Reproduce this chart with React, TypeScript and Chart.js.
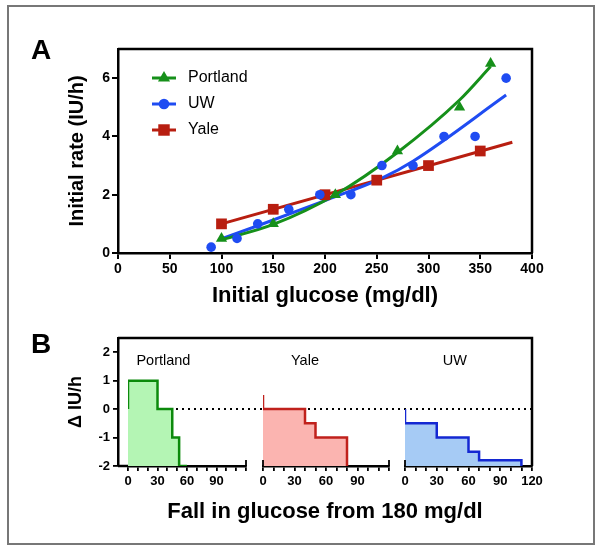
import React, { useEffect, useRef } from 'react';
import { Chart, registerables } from 'chart.js';

Chart.register(...registerables);

const FONT = 'Arial, "Liberation Sans", Helvetica, sans-serif';

// ---------------- Panel A data ----------------
const seriesNames = ['Portland', 'UW', 'Yale'];
const seriesColors = ['#16901a', '#1f4cf2', '#b81e10'];
const seriesMarkers = ['triangle', 'circle', 'rect'];
const seriesMarkerRadius = [6.5, 4.8, 7.6];

const portlandGlucose = [100, 150, 210, 270, 330, 360];
const portlandRate = [0.5, 1.0, 2.0, 3.5, 5.0, 6.5];
const uwGlucose = [90, 115, 135, 165, 195, 225, 255, 285, 315, 345, 375];
const uwRate = [0.2, 0.5, 1.0, 1.5, 2.0, 2.0, 3.0, 3.0, 4.0, 4.0, 6.0];
const yaleGlucose = [100, 150, 200, 250, 300, 350];
const yaleRate = [1.0, 1.5, 2.0, 2.5, 3.0, 3.5];

// fitted curves
const portlandFitX = [100, 150, 210, 270, 330, 360];
const portlandFitY = [0.45, 0.98, 2.0, 3.45, 5.25, 6.4];
const uwFitX = [97, 137, 200, 255, 285, 375];
const uwFitY = [0.45, 0.96, 1.8, 2.57, 3.15, 5.42];
const yaleFitX = [100, 381];
const yaleFitY = [1.0, 3.8];

// ---------------- Panel B data ----------------
const subPanelNames = ['Portland', 'Yale', 'UW'];
const subLineColors = ['#0c8a0c', '#c0211c', '#1428d2'];
const subFillColors = ['#b4f5b4', '#fbb4b0', '#a6cbf5'];
const subLabelFall = [36, 40, 47];

const portlandFall = [0, 0, 30, 45, 52, 60];
const portlandDelta = [0, 1, 0, -1, -2, -2];
const yaleFall = [0, 0, 40, 50, 80];
const yaleDelta = [0.5, 0, -0.5, -1, -2];
const uwFall = [0, 0, 30, 60, 70, 110];
const uwDelta = [0, -0.5, -1, -1.5, -1.8, -2];

const zip = (xs: number[], ys: number[]) => xs.map((x, i) => ({ x, y: ys[i] }));

function drawMarker(ctx: CanvasRenderingContext2D, style: string, x: number, y: number, r: number) {
  ctx.beginPath();
  if (style === 'triangle') {
    for (let k = 0; k < 3; k++) {
      const ang = -Math.PI / 2 + (k * 2 * Math.PI) / 3;
      const px = x + Math.cos(ang) * r;
      const py = y + Math.sin(ang) * r;
      if (k === 0) ctx.moveTo(px, py);
      else ctx.lineTo(px, py);
    }
    ctx.closePath();
  } else if (style === 'rect') {
    const s = r * Math.SQRT1_2;
    ctx.rect(x - s, y - s, 2 * s, 2 * s);
  } else {
    ctx.arc(x, y, r, 0, Math.PI * 2);
  }
  ctx.fill();
}

const panelAPlugin = {
  id: 'panelA',
  afterDraw(chart: any) {
    const { ctx, chartArea: a } = chart;
    ctx.save();
    ctx.strokeStyle = '#000';
    ctx.lineWidth = 2.5;
    ctx.beginPath();
    ctx.moveTo(a.left, a.top);
    ctx.lineTo(a.right, a.top);
    ctx.lineTo(a.right, a.bottom);
    ctx.stroke();

    // legend
    seriesNames.forEach((name, i) => {
      const y = a.top + 29 + 26 * i;
      const x0 = a.left + 34;
      ctx.strokeStyle = seriesColors[i];
      ctx.fillStyle = seriesColors[i];
      ctx.lineWidth = 3;
      ctx.beginPath();
      ctx.moveTo(x0, y);
      ctx.lineTo(x0 + 24, y);
      ctx.stroke();
      drawMarker(ctx, seriesMarkers[i], x0 + 12, y, seriesMarkerRadius[i] + 0.5);
      ctx.fillStyle = '#000';
      ctx.font = `16px ${FONT}`;
      ctx.textAlign = 'left';
      ctx.textBaseline = 'middle';
      ctx.fillText(name, x0 + 36, y);
    });

    ctx.fillStyle = '#000';
    ctx.font = `bold 28px ${FONT}`;
    ctx.textAlign = 'center';
    ctx.textBaseline = 'middle';
    ctx.fillText('A', 41, 51);
    ctx.restore();
  },
};

const panelBPlugin = {
  id: 'panelB',
  beforeDatasetsDraw(chart: any) {
    const { ctx, chartArea: a, scales } = chart;
    const y0 = scales.y.getPixelForValue(0);
    const xs = scales.xP.getPixelForValue(0);
    ctx.save();
    ctx.setLineDash([2, 4]);
    ctx.lineWidth = 2;
    ctx.strokeStyle = '#000';
    ctx.beginPath();
    ctx.moveTo(xs, y0);
    ctx.lineTo(a.right, y0);
    ctx.stroke();
    ctx.restore();
  },
  afterDraw(chart: any) {
    const { ctx, chartArea: a, scales } = chart;
    ctx.save();
    ctx.strokeStyle = '#000';
    ctx.lineWidth = 2.5;
    ctx.beginPath();
    ctx.moveTo(a.left, a.top);
    ctx.lineTo(a.right, a.top);
    ctx.lineTo(a.right, a.bottom);
    ctx.stroke();
    // bottom segment between y axis and first sub-axis
    ctx.beginPath();
    ctx.moveTo(a.left, a.bottom);
    ctx.lineTo(scales.xP.left, a.bottom);
    ctx.stroke();
    // end ticks extending upward
    ctx.lineWidth = 1.8;
    const ends = [scales.xP.right, scales.xY.left, scales.xY.right, scales.xU.left];
    ends.forEach((px: number) => {
      ctx.beginPath();
      ctx.moveTo(px, a.bottom);
      ctx.lineTo(px, a.bottom - 6);
      ctx.stroke();
    });
    // sub-panel labels
    ctx.fillStyle = '#000';
    ctx.font = `14.5px ${FONT}`;
    ctx.textAlign = 'center';
    ctx.textBaseline = 'middle';
    const ids = ['xP', 'xY', 'xU'];
    subPanelNames.forEach((n, i) => {
      ctx.fillText(n, scales[ids[i]].getPixelForValue(subLabelFall[i]), scales.y.getPixelForValue(1.7));
    });
    ctx.font = `bold 28px ${FONT}`;
    ctx.fillText('B', 41, 25);
    ctx.restore();
  },
};

const tickFont = (size: number) => ({ family: FONT, size, weight: 'bold' as const });

export default function App() {
  const refA = useRef<HTMLCanvasElement>(null);
  const refB = useRef<HTMLCanvasElement>(null);

  useEffect(() => {
    const chartA = new Chart(refA.current as HTMLCanvasElement, {
      type: 'scatter',
      data: {
        datasets: [
          { label: 'Portland', data: zip(portlandGlucose, portlandRate), pointStyle: 'triangle', pointRadius: seriesMarkerRadius[0], backgroundColor: seriesColors[0], borderColor: seriesColors[0], pointBorderWidth: 0, showLine: false, order: 0 },
          { label: 'UW', data: zip(uwGlucose, uwRate), pointStyle: 'circle', pointRadius: seriesMarkerRadius[1], backgroundColor: seriesColors[1], borderColor: seriesColors[1], pointBorderWidth: 0, showLine: false, order: 0 },
          { label: 'Yale', data: zip(yaleGlucose, yaleRate), pointStyle: 'rect', pointRadius: seriesMarkerRadius[2], backgroundColor: seriesColors[2], borderColor: seriesColors[2], pointBorderWidth: 0, showLine: false, order: 0 },
          { label: 'Portland fit', data: zip(portlandFitX, portlandFitY), showLine: true, pointRadius: 0, borderColor: seriesColors[0], borderWidth: 3, cubicInterpolationMode: 'monotone', order: 1 },
          { label: 'UW fit', data: zip(uwFitX, uwFitY), showLine: true, pointRadius: 0, borderColor: seriesColors[1], borderWidth: 3, cubicInterpolationMode: 'monotone', order: 2 },
          { label: 'Yale fit', data: zip(yaleFitX, yaleFitY), showLine: true, pointRadius: 0, borderColor: seriesColors[2], borderWidth: 3, order: 3 },
        ] as any,
      },
      options: {
        responsive: false,
        animation: false,
        events: [],
        layout: { padding: { left: 65, top: 49, right: 69, bottom: 10.8 } },
        plugins: { legend: { display: false }, tooltip: { enabled: false } },
        scales: {
          x: {
            type: 'linear', min: 0, max: 400,
            ticks: { stepSize: 50, color: '#000', font: tickFont(14), padding: 2, maxRotation: 0, autoSkip: false },
            grid: { drawOnChartArea: false, color: '#000', lineWidth: 2, tickLength: 6 },
            border: { color: '#000', width: 2.5 },
            title: { display: true, text: 'Initial glucose (mg/dl)', color: '#000', font: { family: FONT, size: 22, weight: 'bold' }, padding: { top: 0, bottom: 0 } },
            afterFit: (s: any) => { s.height = 56.2; },
          },
          y: {
            type: 'linear', min: 0, max: 7,
            ticks: { stepSize: 2, includeBounds: false, color: '#000', font: tickFont(14), padding: 2 },
            grid: { drawOnChartArea: false, color: '#000', lineWidth: 2, tickLength: 6 },
            border: { color: '#000', width: 2.5 },
            title: { display: true, text: 'Initial rate (IU/h)', color: '#000', font: { family: FONT, size: 20, weight: 'bold' }, padding: { top: 0, bottom: 0 } },
            afterFit: (s: any) => { s.width = 53; },
          },
        } as any,
      },
      plugins: [panelAPlugin],
    });

    const subAxis = (weight: number, showEnd: boolean) => ({
      type: 'linear', axis: 'x', position: 'bottom', stack: 'fall', stackWeight: weight, min: 0, max: 120,
      ticks: {
        stepSize: 10, autoSkip: false, maxRotation: 0, color: '#000', font: tickFont(13), padding: 3,
        callback: (v: any) => (Number(v) % 30 === 0 && (showEnd || Number(v) < 120) ? String(v) : ''),
      },
      grid: { drawOnChartArea: false, color: '#000', lineWidth: 1.8, tickLength: 5 },
      border: { display: true, color: '#000', width: 2.5 },
      afterFit: (s: any) => { s.height = 30; },
    });
    const spacer = (weight: number) => ({
      type: 'linear', axis: 'x', position: 'bottom', stack: 'fall', stackWeight: weight, min: 0, max: 1,
      ticks: { display: false },
      grid: { display: false, drawTicks: false },
      border: { display: false },
      afterFit: (s: any) => { s.height = 30; },
    });

    const stepDataset = (label: string, xs: number[], ys: number[], i: number, axisId: string) => ({
      label, data: zip(xs, ys), xAxisID: axisId, yAxisID: 'y', showLine: true, stepped: true,
      pointRadius: 0, borderColor: subLineColors[i], borderWidth: 2.5, backgroundColor: subFillColors[i],
      fill: { value: -2 },
    });

    const chartB = new Chart(refB.current as HTMLCanvasElement, {
      type: 'scatter',
      data: {
        datasets: [
          stepDataset('Portland', portlandFall, portlandDelta, 0, 'xP'),
          stepDataset('Yale', yaleFall, yaleDelta, 1, 'xY'),
          stepDataset('UW', uwFall, uwDelta, 2, 'xU'),
        ] as any,
      },
      options: {
        responsive: false,
        animation: false,
        events: [],
        layout: { padding: { left: 65, top: 18, right: 69, bottom: 26.8 } },
        plugins: { legend: { display: false }, tooltip: { enabled: false } },
        scales: {
          xs0: spacer(10),
          xP: subAxis(118, false),
          xs1: spacer(17),
          xY: subAxis(126, false),
          xs2: spacer(16),
          xU: subAxis(127, true),
          xTitle: {
            type: 'linear', axis: 'x', position: 'bottom', weight: 1, min: 0, max: 1,
            ticks: { display: false },
            grid: { display: false, drawTicks: false },
            border: { display: false },
            title: { display: true, text: 'Fall in glucose from 180 mg/dl', color: '#000', font: { family: FONT, size: 22, weight: 'bold' }, padding: { top: 0, bottom: 0 } },
            afterFit: (s: any) => { s.height = 29.2; },
          },
          y: {
            type: 'linear', min: -2, max: 2.5,
            ticks: { stepSize: 1, includeBounds: false, color: '#000', font: tickFont(13), padding: 3 },
            grid: { drawOnChartArea: false, color: '#000', lineWidth: 1.8, tickLength: 5 },
            border: { color: '#000', width: 2.5 },
            title: { display: true, text: 'Δ IU/h', color: '#000', font: { family: FONT, size: 18, weight: 'bold' }, padding: { top: 0, bottom: 0 } },
            afterFit: (s: any) => { s.width = 53; },
          },
        } as any,
      },
      plugins: [panelBPlugin],
    });

    return () => {
      chartA.destroy();
      chartB.destroy();
    };
  }, []);

  return (
    <div style={{ position: 'absolute', left: 0, top: 0, width: 601, height: 552, background: '#fff', overflow: 'hidden' }}>
      <div style={{ position: 'absolute', left: 7, top: 5, width: 588, height: 540, boxSizing: 'border-box', border: '2px solid #777' }} />
      <canvas ref={refA} width={601} height={320} style={{ position: 'absolute', left: 0, top: 0 }} />
      <canvas ref={refB} width={601} height={232} style={{ position: 'absolute', left: 0, top: 320 }} />
    </div>
  );
}
